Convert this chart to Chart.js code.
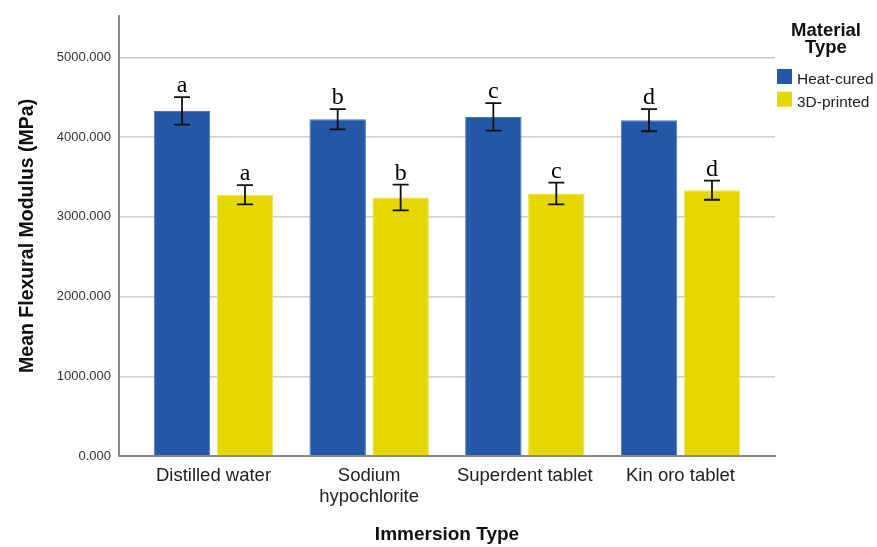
<!DOCTYPE html>
<html>
<head>
<meta charset="utf-8">
<script src="https://cdn.jsdelivr.net/npm/chart.js@4/dist/chart.umd.min.js"></script>
<style>
  html, body { margin: 0; padding: 0; background: #ffffff; }
  #wrap { width: 877px; height: 547px; position: relative; }
</style>
</head>
<body>
<div id="wrap"><canvas id="c" width="877" height="547"></canvas></div>
<script>
// ---- data ----
const categories = ['Distilled water', ['Sodium', 'hypochlorite'], 'Superdent tablet', 'Kin oro tablet'];
const seriesNames = ['Heat-cured', '3D-printed'];
const heatCured = [4327, 4223, 4252, 4211];
const printed3D = [3276, 3242, 3292, 3333];
const heatCuredErr = [172, 127, 172, 139];
const printed3DErr = [120, 162, 137, 120];
const heatCuredLetters = ['a', 'b', 'c', 'd'];
const printed3DLetters = ['a', 'b', 'c', 'd'];
const yTicks = [0, 1000, 2000, 3000, 4000, 5000];
const legendTitle = ['Material', 'Type'];
const xTitle = 'Immersion Type';
const yTitle = 'Mean Flexural Modulus (MPa)';

const colors = ['#2557A7', '#E5D800'];
const edgeColors = ['#4f78bb', '#ece15a'];
const errs = [heatCuredErr, printed3DErr];
const letters = [heatCuredLetters, printed3DLetters];

const toXY = arr => arr.map((v, i) => ({ x: i, y: v }));

const errorBarPlugin = {
  id: 'errorBars',
  afterDatasetsDraw(chart) {
    const ctx = chart.ctx;
    const y = chart.scales.y;
    chart.data.datasets.forEach((ds, di) => {
      const meta = chart.getDatasetMeta(di);
      meta.data.forEach((bar, i) => {
        const v = ds.data[i].y;
        const e = errs[di][i];
        const yTop = y.getPixelForValue(v + e);
        const yBot = y.getPixelForValue(v - e);
        const x = bar.x;
        ctx.save();
        ctx.strokeStyle = '#111111';
        ctx.lineWidth = 1.8;
        ctx.beginPath();
        ctx.moveTo(x, yTop); ctx.lineTo(x, yBot);
        ctx.moveTo(x - 8, yTop); ctx.lineTo(x + 8, yTop);
        ctx.moveTo(x - 8, yBot); ctx.lineTo(x + 8, yBot);
        ctx.stroke();
        ctx.fillStyle = '#000000';
        ctx.font = '24px "Liberation Serif", "Times New Roman", serif';
        ctx.textAlign = 'center';
        ctx.textBaseline = 'alphabetic';
        ctx.fillText(letters[di][i], x, yTop - 5);
        ctx.restore();
      });
    });
  }
};

const legendPlugin = {
  id: 'customLegend',
  afterDraw(chart) {
    const ctx = chart.ctx;
    ctx.save();
    ctx.fillStyle = '#111111';
    ctx.font = 'bold 18.5px "Liberation Sans", Arial, sans-serif';
    ctx.textAlign = 'center';
    ctx.textBaseline = 'alphabetic';
    ctx.fillText(legendTitle[0], 826, 36);
    ctx.fillText(legendTitle[1], 826, 53);
    ctx.font = '15.5px "Liberation Sans", Arial, sans-serif';
    ctx.textAlign = 'left';
    chart.data.datasets.forEach((ds, i) => {
      const top = 69 + i * 22.7;
      ctx.fillStyle = ds.backgroundColor;
      ctx.fillRect(777, top, 15, 15);
      ctx.fillStyle = '#222222';
      ctx.fillText(ds.label, 797, top + 15);
    });
    ctx.restore();
  }
};

new Chart(document.getElementById('c'), {
  type: 'bar',
  data: {
    datasets: [
      { label: seriesNames[0], data: toXY(heatCured), backgroundColor: colors[0],
        borderColor: edgeColors[0], borderWidth: 1,
        categoryPercentage: 0.809, barPercentage: 0.897 },
      { label: seriesNames[1], data: toXY(printed3D), backgroundColor: colors[1],
        borderColor: edgeColors[1], borderWidth: 1,
        categoryPercentage: 0.809, barPercentage: 0.897 }
    ]
  },
  options: {
    responsive: false,
    animation: false,
    layout: { padding: { left: 0, right: 102, top: 13, bottom: 0 } },
    plugins: { legend: { display: false }, tooltip: { enabled: false } },
    scales: {
      x: {
        type: 'linear',
        min: -0.607,
        max: 3.607,
        offset: false,
        grid: { display: false, drawTicks: false },
        border: { display: true, color: '#8a8a8a', width: 2 },
        ticks: {
          stepSize: 1,
          includeBounds: false,
          autoSkip: false,
          maxRotation: 0,
          padding: 10,
          color: '#222222',
          font: { family: '"Liberation Sans", Arial, sans-serif', size: 18.5, lineHeight: 1.1 },
          callback: (v) => (Number.isInteger(v) && categories[v] !== undefined) ? categories[v] : ''
        },
        title: {
          display: true, text: xTitle, color: '#111111',
          font: { family: '"Liberation Sans", Arial, sans-serif', size: 19, weight: 'bold', lineHeight: 1.2 },
          padding: { top: 1, bottom: 1 }
        },
        afterFit(scale) { scale.height = 91; }
      },
      y: {
        min: 0,
        max: 5520,
        grid: { color: '#cdcdcd', lineWidth: 1.5, drawTicks: false },
        border: { display: true, color: '#8a8a8a', width: 2 },
        afterBuildTicks(scale) { scale.ticks = yTicks.map(v => ({ value: v })); },
        ticks: {
          padding: 8,
          color: '#333333',
          font: { family: '"Liberation Sans", Arial, sans-serif', size: 13 },
          callback: (v) => Number(v).toFixed(3)
        },
        title: {
          display: true, text: yTitle, color: '#111111',
          font: { family: '"Liberation Sans", Arial, sans-serif', size: 19.5, weight: 'bold', lineHeight: 1.2 },
          padding: { top: 16, bottom: 16 }
        },
        afterFit(scale) { scale.width = 119; }
      }
    }
  },
  plugins: [errorBarPlugin, legendPlugin]
});
</script>
</body>
</html>
